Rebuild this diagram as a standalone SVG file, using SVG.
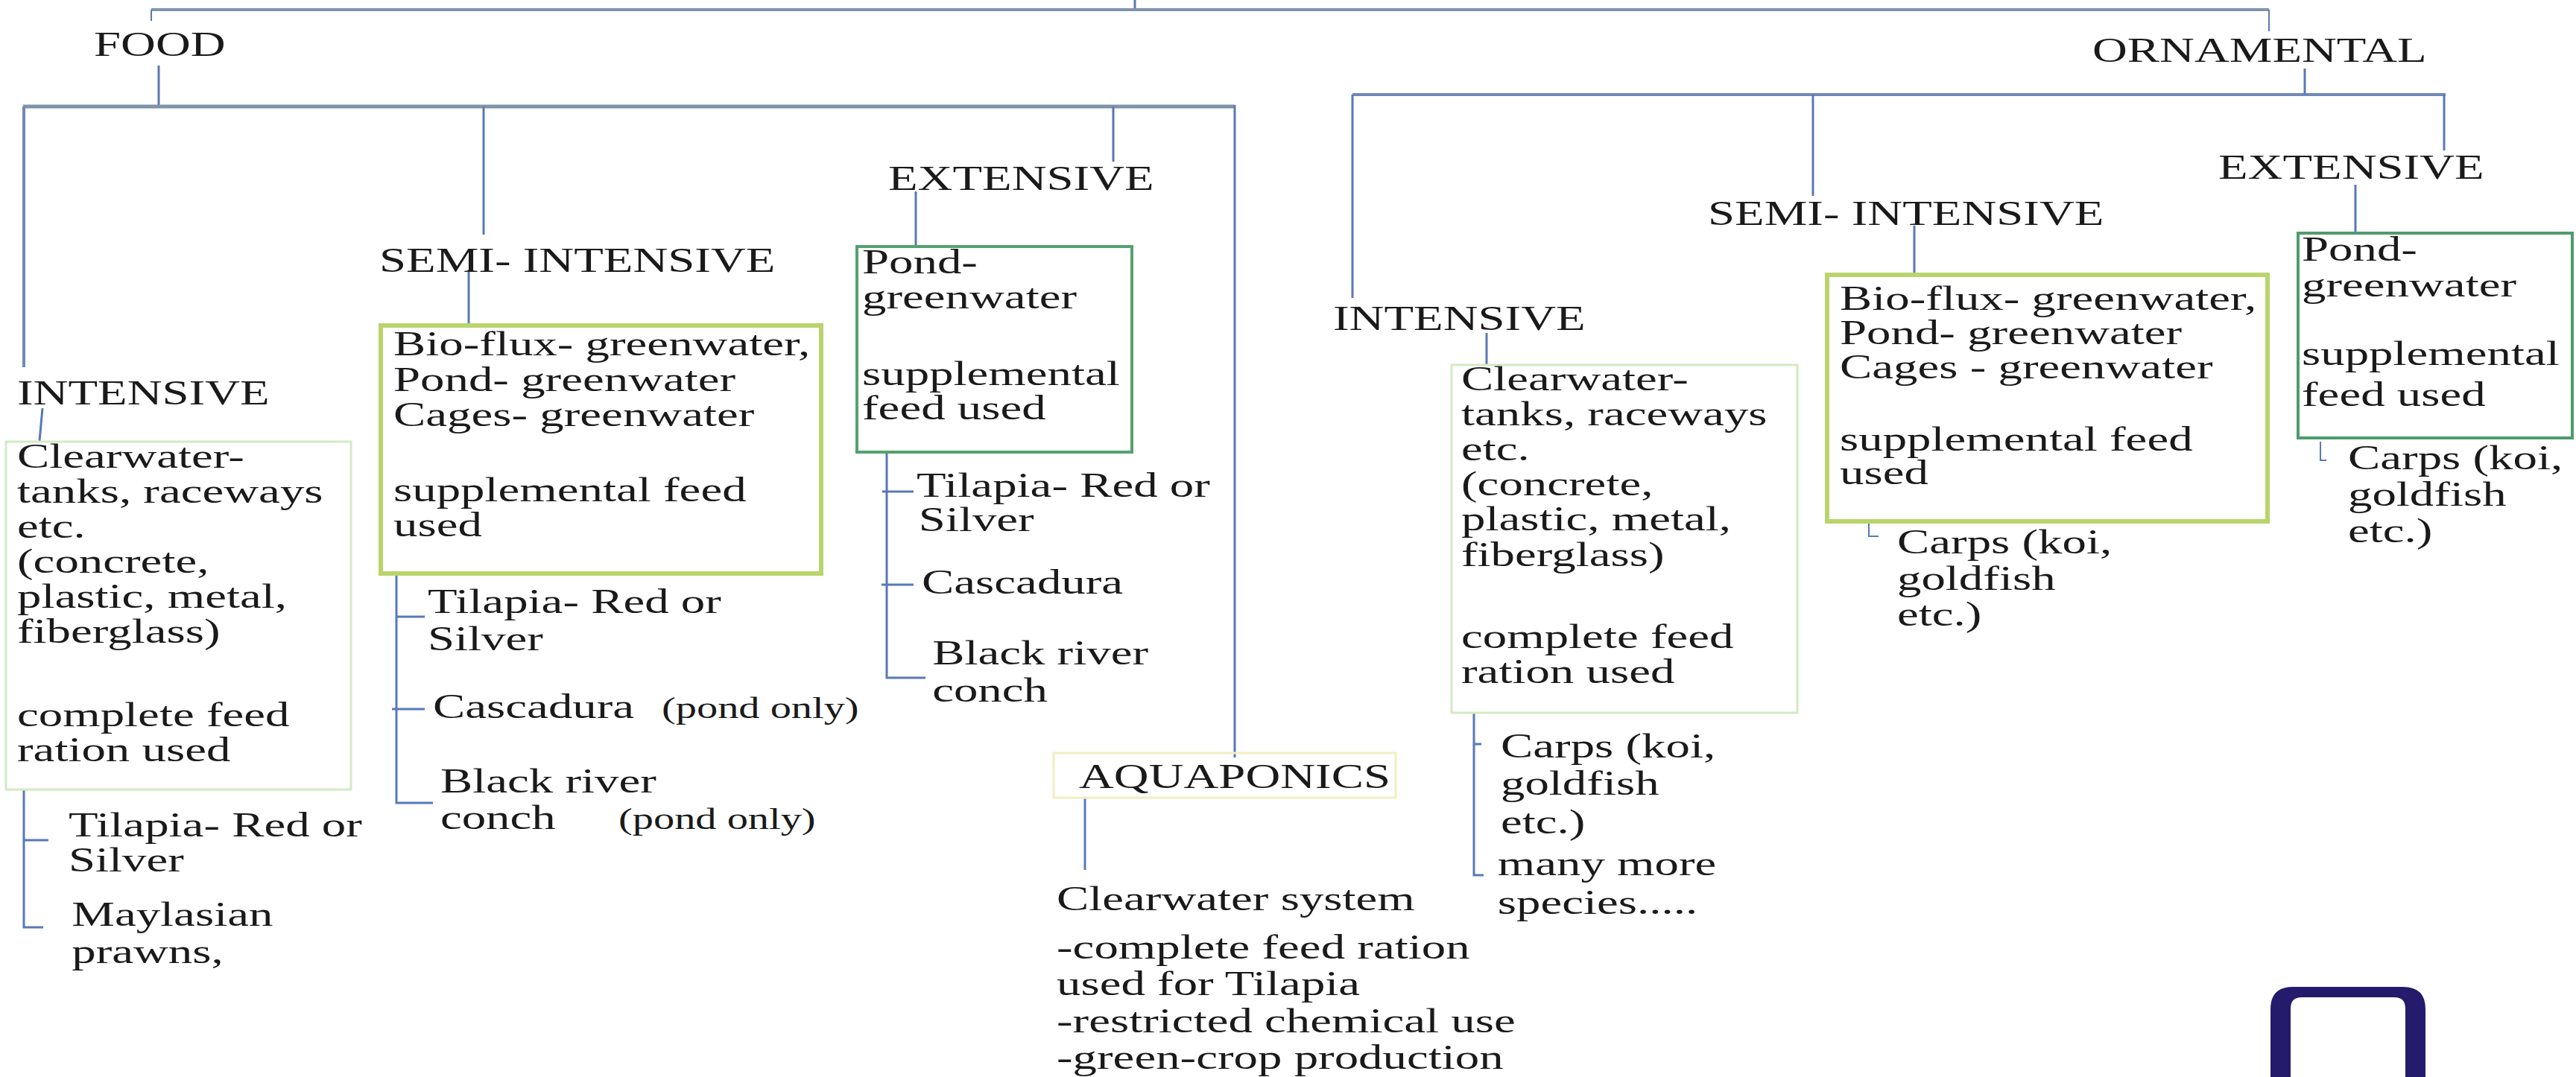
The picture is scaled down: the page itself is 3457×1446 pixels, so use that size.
<svg xmlns="http://www.w3.org/2000/svg" width="3457" height="1446" viewBox="0 0 3457 1446">
<style>
.t{font-family:"Liberation Serif","Times New Roman",serif;font-size:46px;fill:#1a1a1a}
.s{font-size:40px}
.c{stroke:#5a78b8;stroke-width:3;fill:none}
.bar{stroke:#8094a9;stroke-width:5;fill:none}
.bar2{stroke:#6f88b8;stroke-width:4;fill:none}
.bxl{fill:none;stroke:#d3eac3;stroke-width:3}
.bxy{fill:none;stroke:#b9d46c;stroke-width:6}
.bxg{fill:none;stroke:#56a170;stroke-width:4}
.bxa{fill:none;stroke:#f2eec2;stroke-width:3}
</style>
<rect width="3457" height="1446" fill="#ffffff"/>
<g id="connectors">
<path class="c" d="M1523,0 V13"/>
<path class="bar" d="M203,13 H3045" style="stroke-width:4"/>
<path class="c" d="M203,13 V28 M3045,13 V42" style="stroke-width:2"/>
<path class="c" d="M213,88 V143"/>
<path class="bar" d="M31,143 H1657"/>
<path class="bar2" d="M32,143 V493"/>
<path class="c" d="M649,143 V315 M1494,143 V217 M1657,141 V1017"/>
<path class="c" d="M57,548 L53,592"/>
<path class="c" d="M629,362 V437 M1229,257 V331"/>
<path class="c" d="M32,1060 V1245 H58 M32,1128 H65"/>
<path class="c" d="M532,770 V1078 H581 M532,828 H570 M526,952 H570"/>
<path class="c" d="M1190,607 V910 H1242 M1184,660 H1226 M1183,785 H1226"/>
<path class="c" d="M1456,1071 V1168"/>
<path class="bar2" d="M1815,127 H3282"/>
<path class="c" d="M3093,92 V127 M1815,127 V400 M2433,127 V263 M3280,127 V202"/>
<path class="c" d="M1995,447 V490 M2569,303 V369 M3161,248 V313"/>
<path class="c" d="M1978,957 V1175 H1991 M1978,999 H1988"/>
<path class="c" d="M2508,703 V720 H2521" style="stroke-width:2"/>
<path class="c" d="M3114,593 V618 H3122" style="stroke-width:2"/>
</g>
<g id="food"><text class="t" transform="translate(126 75) scale(1.41 1)">FOOD</text></g>
<g id="ornamental"><text class="t" transform="translate(2808 83) scale(1.41 1)">ORNAMENTAL</text></g>
<g id="food-intensive"><text class="t" transform="translate(23 543) scale(1.41 1)">INTENSIVE</text></g>
<g id="food-intensive-box">
<rect class="bxl" x="8" y="593" width="463" height="467"/>
<text class="t" transform="translate(23 0) scale(1.41 1)"><tspan x="0" y="628">Clearwater-</tspan><tspan x="0" y="675">tanks, raceways</tspan><tspan x="0" y="722">etc.</tspan><tspan x="0" y="769">(concrete,</tspan><tspan x="0" y="816">plastic, metal,</tspan><tspan x="0" y="863">fiberglass)</tspan><tspan x="0" y="975">complete feed</tspan><tspan x="0" y="1022">ration used</tspan></text>
</g>
<g id="food-intensive-species">
<text class="t" transform="translate(92 0) scale(1.41 1)"><tspan x="0" y="1123">Tilapia- Red or</tspan><tspan x="0" y="1170">Silver</tspan><tspan x="3" y="1243">Maylasian</tspan><tspan x="3" y="1293">prawns,</tspan></text>
</g>
<g id="food-semi"><text class="t" transform="translate(509 365) scale(1.41 1)">SEMI- INTENSIVE</text></g>
<g id="food-semi-box">
<rect class="bxy" x="511" y="437" width="591" height="333"/>
<text class="t" transform="translate(528 0) scale(1.41 1)"><tspan x="0" y="477">Bio-flux- greenwater,</tspan><tspan x="0" y="525">Pond- greenwater</tspan><tspan x="0" y="572">Cages- greenwater</tspan><tspan x="0" y="673">supplemental feed</tspan><tspan x="0" y="720">used</tspan></text>
</g>
<g id="food-semi-species">
<text class="t" transform="translate(574 0) scale(1.41 1)"><tspan x="0" y="823">Tilapia- Red or</tspan><tspan x="0" y="873">Silver</tspan><tspan x="5" y="964">Cascadura</tspan><tspan x="12" y="1064">Black river</tspan><tspan x="12" y="1113">conch</tspan></text>
<text class="t s" transform="translate(888 964) scale(1.41 1)">(pond only)</text>
<text class="t s" transform="translate(830 1113) scale(1.41 1)">(pond only)</text>
</g>
<g id="food-extensive"><text class="t" transform="translate(1192 255) scale(1.41 1)">EXTENSIVE</text></g>
<g id="food-extensive-box">
<rect class="bxg" x="1150" y="331" width="369" height="276"/>
<text class="t" transform="translate(1157 0) scale(1.41 1)"><tspan x="0" y="367">Pond-</tspan><tspan x="0" y="414">greenwater</tspan><tspan x="0" y="517">supplemental</tspan><tspan x="0" y="563">feed used</tspan></text>
</g>
<g id="food-extensive-species">
<text class="t" transform="translate(1230 0) scale(1.41 1)"><tspan x="0" y="667">Tilapia- Red or</tspan><tspan x="2" y="713">Silver</tspan><tspan x="5" y="797">Cascadura</tspan><tspan x="15" y="892">Black river</tspan><tspan x="15" y="942">conch</tspan></text>
</g>
<g id="aquaponics">
<rect class="bxa" x="1414" y="1011" width="459" height="60"/>
<text class="t" transform="translate(1448 1058) scale(1.41 1)">AQUAPONICS</text>
</g>
<g id="aquaponics-detail">
<text class="t" transform="translate(1418 0) scale(1.41 1)"><tspan x="0" y="1222">Clearwater system</tspan><tspan x="0" y="1287">-complete feed ration</tspan><tspan x="0" y="1336">used for Tilapia</tspan><tspan x="0" y="1386">-restricted chemical use</tspan><tspan x="0" y="1435">-green-crop production</tspan></text>
</g>
<g id="orn-intensive"><text class="t" transform="translate(1789 443) scale(1.41 1)">INTENSIVE</text></g>
<g id="orn-intensive-box">
<rect class="bxl" x="1948" y="490" width="464" height="467"/>
<text class="t" transform="translate(1961 0) scale(1.41 1)"><tspan x="0" y="524">Clearwater-</tspan><tspan x="0" y="571">tanks, raceways</tspan><tspan x="0" y="618">etc.</tspan><tspan x="0" y="665">(concrete,</tspan><tspan x="0" y="712">plastic, metal,</tspan><tspan x="0" y="760">fiberglass)</tspan><tspan x="0" y="870">complete feed</tspan><tspan x="0" y="917">ration used</tspan></text>
</g>
<g id="orn-intensive-species">
<text class="t" transform="translate(2014 0) scale(1.41 1)"><tspan x="0" y="1017">Carps (koi,</tspan><tspan x="0" y="1067">goldfish</tspan><tspan x="0" y="1119">etc.)</tspan><tspan x="-3" y="1175">many more</tspan><tspan x="-3" y="1227">species.....</tspan></text>
</g>
<g id="orn-semi"><text class="t" transform="translate(2292 302) scale(1.41 1)">SEMI- INTENSIVE</text></g>
<g id="orn-semi-box">
<rect class="bxy" x="2452" y="369" width="591" height="331"/>
<text class="t" transform="translate(2469 0) scale(1.41 1)"><tspan x="0" y="416">Bio-flux- greenwater,</tspan><tspan x="0" y="462">Pond- greenwater</tspan><tspan x="0" y="508">Cages - greenwater</tspan><tspan x="0" y="605">supplemental feed</tspan><tspan x="0" y="650">used</tspan></text>
</g>
<g id="orn-semi-species">
<text class="t" transform="translate(2546 0) scale(1.41 1)"><tspan x="0" y="743">Carps (koi,</tspan><tspan x="0" y="792">goldfish</tspan><tspan x="0" y="840">etc.)</tspan></text>
</g>
<g id="orn-extensive"><text class="t" transform="translate(2977 240) scale(1.41 1)">EXTENSIVE</text></g>
<g id="orn-extensive-box">
<rect class="bxg" x="3084" y="313" width="368" height="275" style="stroke:#4f9a6c"/>
<text class="t" transform="translate(3089 0) scale(1.41 1)"><tspan x="0" y="350">Pond-</tspan><tspan x="0" y="398">greenwater</tspan><tspan x="0" y="490">supplemental</tspan><tspan x="0" y="545">feed used</tspan></text>
</g>
<g id="orn-extensive-species">
<text class="t" transform="translate(3151 0) scale(1.41 1)"><tspan x="0" y="630">Carps (koi,</tspan><tspan x="0" y="679">goldfish</tspan><tspan x="0" y="728">etc.)</tspan></text>
</g>
<g id="logo">
<path fill="#241b6c" fill-rule="evenodd" d="M3047,1446 V1355 Q3047,1325 3077,1325 H3225 Q3255,1325 3255,1355 V1446 Z M3074,1446 V1354 Q3074,1339 3089,1339 H3213 Q3228,1339 3228,1354 V1446 Z"/>
</g>
</svg>
